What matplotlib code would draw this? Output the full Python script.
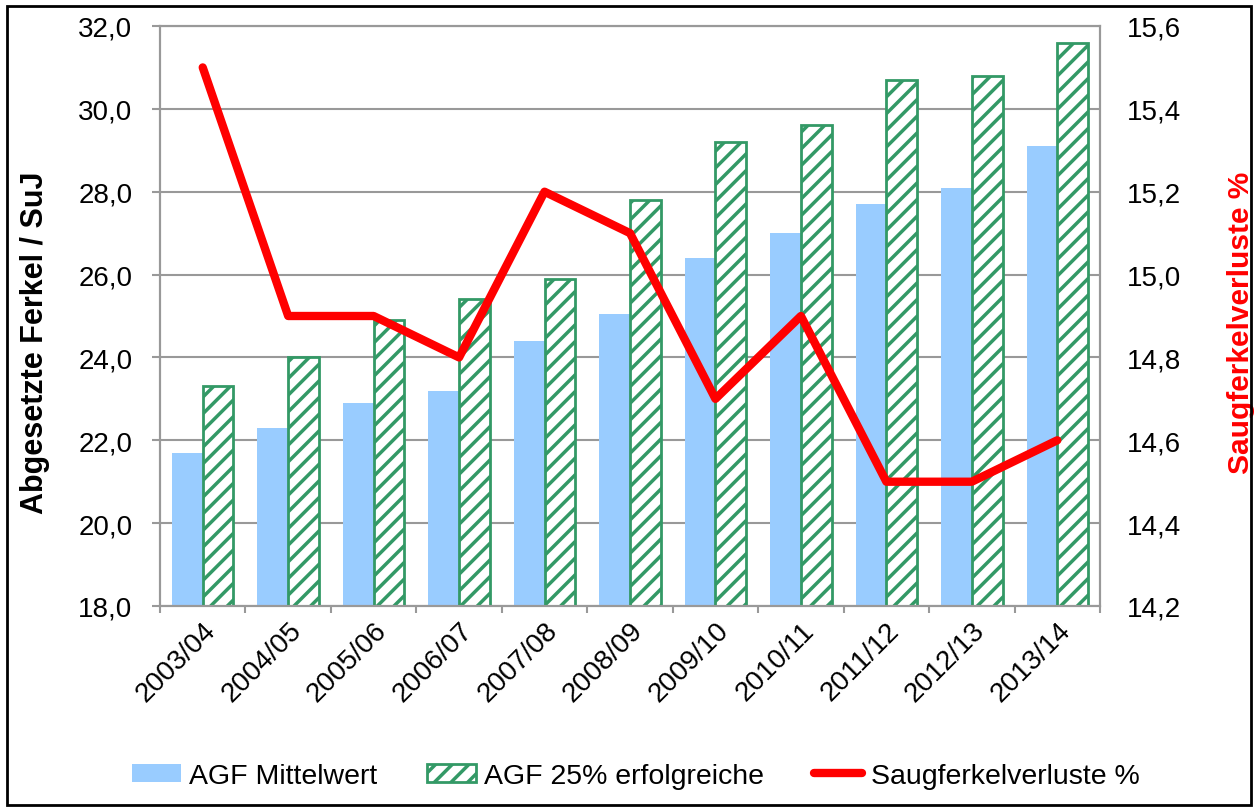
import matplotlib
matplotlib.use("Agg")
import matplotlib.pyplot as plt
import numpy as np
from matplotlib.patches import Rectangle

categories = ["2003/04", "2004/05", "2005/06", "2006/07", "2007/08", "2008/09",
              "2009/10", "2010/11", "2011/12", "2012/13", "2013/14"]
agf_mittel = [21.7, 22.3, 22.9, 23.2, 24.4, 25.05, 26.4, 27.0, 27.7, 28.1, 29.1]
agf_top25 = [23.3, 24.0, 24.9, 25.4, 25.9, 27.8, 29.2, 29.6, 30.7, 30.8, 31.6]
verluste = [15.5, 14.9, 14.9, 14.8, 15.2, 15.1, 14.7, 14.9, 14.5, 14.5, 14.6]
left_ticks = [18, 20, 22, 24, 26, 28, 30, 32]
right_ticks = [14.2, 14.4, 14.6, 14.8, 15.0, 15.2, 15.4, 15.6]

plt.rcParams['font.family'] = ['Liberation Sans', 'DejaVu Sans']
plt.rcParams['hatch.color'] = '#339966'
plt.rcParams['hatch.linewidth'] = 2.5

fig = plt.figure(figsize=(12.58, 8.12), dpi=100)
ax = fig.add_axes([160/1258, 1-607/812, 940/1258, 580/812])
ax2 = ax.twinx()

x = np.arange(len(categories))
w = 0.36
ax.bar(x - w/2, agf_mittel, w, color='#99CCFF', zorder=2, label='AGF Mittelwert')
ax.bar(x + w/2, agf_top25, w, facecolor='white', edgecolor='#339966', hatch='//',
       linewidth=2, zorder=2, label='AGF 25% erfolgreiche')
ax2.plot(x, verluste, color='#FF0000', linewidth=6, solid_capstyle='round',
         solid_joinstyle='round', label='Saugferkelverluste %')

ax.set_xlim(-0.5, len(categories) - 0.5)
ax.set_ylim(18, 32)
ax.set_yticks(left_ticks)
ax.set_yticklabels([f"{t:.1f}".replace('.', ',') for t in left_ticks])
ax2.set_ylim(14.2, 15.6)
ax2.set_yticks(right_ticks)
ax2.set_yticklabels([f"{t:.1f}".replace('.', ',') for t in right_ticks])

ax.set_xticks(np.arange(len(categories) + 1) - 0.5, minor=False)
ax.set_xticklabels([])
ax.set_xticks(x, minor=True)
ax.set_xticklabels(categories, minor=True, rotation=45, ha='right',
                   rotation_mode='anchor', fontsize=20)
ax.tick_params(axis='x', which='minor', length=0, pad=8)
ax.tick_params(axis='x', which='major', length=5, width=1.5, color='#999999',
               direction='out')

ax.yaxis.grid(True, color='#999999', linewidth=1.5, zorder=0)
ax.set_axisbelow(True)
for a in (ax, ax2):
    for s in a.spines.values():
        s.set_color('#999999')
        s.set_linewidth(1.5)
ax.tick_params(axis='y', labelsize=20, length=5.8, width=1.5, color='#999999', pad=14)
ax2.tick_params(axis='y', labelsize=20, length=0, color='#999999', pad=19)

ax.set_ylabel('Abgesetzte Ferkel / SuJ', fontsize=22, fontweight='bold')
ax.yaxis.set_label_coords(-0.117, 0.455)
ax2.set_ylabel('Saugferkelverluste %', fontsize=21.5, fontweight='bold', color='#FF0000')
ax2.yaxis.set_label_coords(1.135, 0.49)

h1, l1 = ax.get_legend_handles_labels()
h2, l2 = ax2.get_legend_handles_labels()
fig.legend(h1 + h2, l1 + l2, loc='center', bbox_to_anchor=(636/1258, 1 - 777/812),
           ncol=3, frameon=False, fontsize=20.5, handlelength=1.7, handleheight=0.6,
           handletextpad=0.3, columnspacing=1.75)

fig.patches.append(Rectangle((7/1258, 1 - 806/812), 1244/1258, 799/812,
                             transform=fig.transFigure, fill=False,
                             edgecolor='black', linewidth=2))

fig.savefig('out.png', dpi=100)
